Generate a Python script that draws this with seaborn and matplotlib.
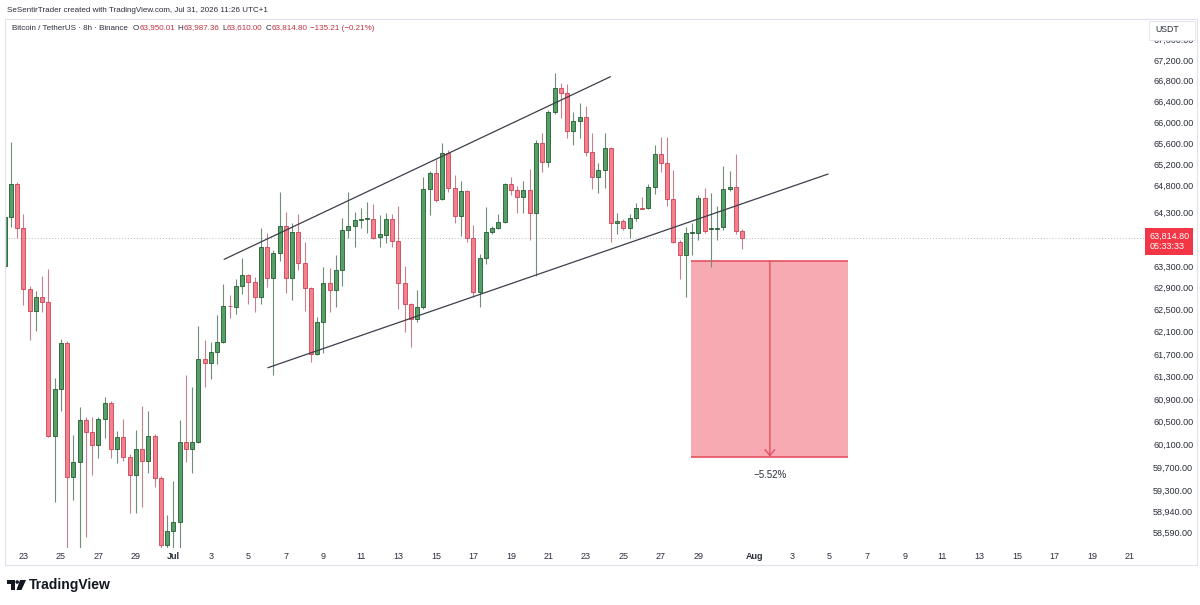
import numpy as np
import pandas as pd
import matplotlib
matplotlib.use("Agg")
import matplotlib.pyplot as plt
import matplotlib.dates as mdates
from matplotlib.patches import Rectangle, Polygon, Ellipse
from matplotlib.ticker import NullLocator, NullFormatter
import seaborn as sns

sns.set_theme(style="white")
plt.rcParams['font.family'] = ['Liberation Sans', 'DejaVu Sans']

# BTC/USDT 8h candles (Binance), first candle Jun 22 00:00
first_candle = "2026-06-22 00:00"
opens = [
    63298, 64205, 64822, 64000, 62876, 62476, 62730, 62639, 60248, 61076,
    61897, 59535, 59795, 60529, 60318, 60091, 60547, 60828, 60021, 60231,
    59882, 59570, 60021, 59813, 60248, 59518, 58371, 58609, 58762, 60143,
    60021, 60143, 61611, 61539, 61736, 61915, 62575, 62548, 62931, 63132,
    63004, 62730, 63647, 63077, 63537, 64037, 63077, 63926, 63353, 62895,
    61700, 62276, 62986, 62858, 63224, 63963, 64037, 64149, 64167, 64167,
    63833, 63870, 64167, 63759, 62986, 62603, 62330, 62548, 64729, 65030,
    64541, 65409, 64748, 64224, 64691, 63814, 62822, 63445, 63926, 64000,
    64112, 64822, 64710, 64578, 64710, 64279, 65600, 65238, 66193, 66656,
    66559, 65829, 66020, 66097, 65428, 64955, 65087, 65504, 64093, 64130,
    64000, 64186, 64373, 64373, 64766, 65390, 65219, 64541, 63740, 63500,
    63907, 63907, 64560, 63981, 63981, 64018, 64729, 64766, 63950.01,
]
highs = [
    64230, 65619, 64860, 64261, 62931, 62840, 63114, 63242, 61272, 61969,
    61933, 60266, 60758, 60582, 60582, 60582, 60934, 60863, 60336, 60547,
    59934, 60353, 60775, 60687, 60283, 59552, 58882, 59466, 60529, 61325,
    61111, 62204, 61951, 61915, 62403, 62968, 62767, 63058, 63445, 63150,
    63095, 64000, 63907, 63592, 64672, 64298, 64093, 64261, 63740, 62913,
    62367, 63279, 63261, 63500, 64186, 64672, 64298, 64373, 64485, 64447,
    64242, 64279, 64261, 64410, 63297, 62620, 62858, 64955, 65068, 65295,
    65600, 65466, 64993, 64880, 64710, 64056, 63518, 64391, 64037, 64261,
    64841, 64955, 64785, 64880, 65106, 65657, 65791, 66231, 66947, 66753,
    66733, 66193, 66366, 66308, 65791, 65219, 65791, 65520, 64279, 64167,
    64261, 64466, 64578, 64822, 65561, 65714, 65714, 65087, 63777, 64018,
    64093, 64616, 64748, 64653, 64410, 65163, 65068, 65390, 63987.36,
]
lows = [
    63250, 64019, 63814, 62585, 61951, 62114, 62458, 60230, 59105, 60687,
    58300, 59139, 58300, 58507, 59570, 59865, 60213, 59865, 59778, 59813,
    58916, 58916, 59019, 59604, 59363, 58300, 58300, 58300, 58300, 59795,
    59604, 60120, 61111, 61254, 61521, 61900, 62348, 62421, 62785, 62603,
    62458, 62603, 62913, 61325, 63390, 62803, 62675, 63224, 62476, 61557,
    61690, 61718, 62458, 62548, 62931, 63814, 63647, 64000, 63907, 63800,
    63647, 63721, 63647, 62512, 62096, 61826, 62276, 62512, 64242, 64485,
    64520, 64672, 64093, 63851, 63740, 62730, 62548, 63335, 63888, 63981,
    64093, 64616, 64279, 64279, 63777, 63113, 65049, 65144, 66154, 66078,
    65695, 65561, 65695, 65352, 64729, 64653, 64748, 63740, 63888, 63963,
    63814, 64130, 64354, 64355, 64635, 65049, 64410, 63721, 63058, 62730,
    63500, 63777, 63907, 63279, 63777, 63963, 64691, 63888, 63610.00,
]
closes = [
    64205, 64822, 64000, 62876, 62476, 62730, 62639, 60248, 61076, 61897,
    59535, 59795, 60529, 60318, 60091, 60547, 60828, 60021, 60231, 59882,
    59570, 60021, 59813, 60248, 59518, 58371, 58609, 58762, 60143, 60021,
    60143, 61611, 61539, 61736, 61915, 62566, 62560, 62931, 63132, 63004,
    62730, 63647, 63077, 63537, 64037, 63077, 63926, 63353, 62895, 61700,
    62276, 62986, 62858, 63224, 63963, 64037, 64149, 64160, 64175, 63814,
    63888, 64167, 63759, 62986, 62603, 62330, 62548, 64729, 65030, 64522,
    65409, 64748, 64224, 64691, 63814, 62822, 63445, 63926, 64000, 64112,
    64822, 64710, 64578, 64710, 64279, 65600, 65238, 66193, 66656, 66559,
    65829, 66020, 66097, 65428, 64955, 65087, 65504, 64093, 64130, 64000,
    64186, 64373, 64360, 64766, 65390, 65219, 64541, 63740, 63500, 63907,
    63915, 64560, 63944, 63990, 64000, 64729, 64766, 63950, 63814.80,
]

y_ticks = [67600, 67200, 66800, 66400, 66000, 65600, 65200, 64800, 64300,
           63300, 62900, 62500, 62100, 61700, 61300, 60900, 60500, 60100,
           59700, 59300, 58940, 58590]
x_tick_dates = ["2026-06-23", "2026-06-25", "2026-06-27", "2026-06-29",
                "2026-07-01", "2026-07-03", "2026-07-05", "2026-07-07",
                "2026-07-09", "2026-07-11", "2026-07-13", "2026-07-15",
                "2026-07-17", "2026-07-19", "2026-07-21", "2026-07-23",
                "2026-07-25", "2026-07-27", "2026-07-29", "2026-08-01",
                "2026-08-03", "2026-08-05", "2026-08-07", "2026-08-09",
                "2026-08-11", "2026-08-13", "2026-08-15", "2026-08-17",
                "2026-08-19", "2026-08-21"]
x_tick_labels = ["23", "25", "27", "29", "Jul", "3", "5", "7", "9", "11",
                 "13", "15", "17", "19", "21", "23", "25", "27", "29", "Aug",
                 "3", "5", "7", "9", "11", "13", "15", "17", "19", "21"]

# drawn channel
upper_dates = ["2026-07-03 17:00", "2026-07-24 07:30"]
upper_prices = [63420, 66875]
lower_dates = ["2026-07-06 01:00", "2026-08-04 22:00"]
lower_prices = [61455, 65011]

# price range tool
box_dates = ["2026-07-28 15:00", "2026-08-06 00:00"]
box_prices = [63390, 59890]
box_label = "\u22125.52%"

header = "SeSentirTrader created with TradingView.com, Jul 31, 2026 11:26 UTC+1"
legend_parts = [("Bitcoin / TetherUS \u00b7 8h \u00b7 Binance", "dark", 5),
                ("O", "dark", 0), ("63,950.01", "red", 3),
                ("H", "dark", 0), ("63,987.36", "red", 3),
                ("L", "dark", 0), ("63,610.00", "red", 3),
                ("C", "dark", 0), ("63,814.80", "red", 3),
                ("\u2212135.21 (\u22120.21%)", "red", 0)]
countdown = "05:33:33"

GREEN, GREEN_EDGE, GREEN_WICK = "#55a065", "#245a34", "#6f8f75"
RED, RED_EDGE, RED_WICK = "#f2808d", "#cc4257", "#c5828c"
TEXT = "#2a2e39"

W, H = 1200, 605
fig = plt.figure(figsize=(W / 100, H / 100), dpi=100)
fig.patch.set_facecolor("white")


def fx(px):
    return px / W


def fy(py):
    return 1 - py / H


fig.add_artist(Rectangle((fx(5), fy(565)), fx(1197) - fx(5), fy(19) - fy(565),
                         transform=fig.transFigure, fill=False,
                         edgecolor="#e0e3eb", lw=0.8))

ax = fig.add_axes([fx(5), fy(548), 1140 / W, 529 / H])
ax.set_facecolor("white")
for s in ax.spines.values():
    s.set_visible(False)
ax.grid(False)

df = pd.DataFrame({"open": opens, "high": highs, "low": lows, "close": closes})
df["date"] = pd.date_range(first_candle, periods=len(df), freq="8h")
df["x"] = mdates.date2num(df["date"])
up = (df["close"] >= df["open"]).values

# price range box (behind candles)
bx = mdates.date2num(pd.to_datetime(box_dates))
ax.add_patch(Rectangle((bx[0], box_prices[1]), bx[1] - bx[0],
                       box_prices[0] - box_prices[1],
                       facecolor="#f8aab3", edgecolor="none", zorder=1))
ax.hlines(box_prices, bx[0], bx[1], colors="#e5505f", lw=1.2, zorder=1.5)
mid = bx.mean()
ax.annotate("", xy=(mid, box_prices[1]), xytext=(mid, box_prices[0]),
            arrowprops=dict(arrowstyle="->,head_length=0.3,head_width=0.25",
                            color="#e5505f", lw=1.0, mutation_scale=14,
                            shrinkA=0, shrinkB=0), zorder=1.6)
ax.annotate(box_label, xy=(mid, box_prices[1]), xytext=(0, -13),
            textcoords="offset points", ha="center", va="center",
            fontsize=7, color=TEXT)

# last price line
last = closes[-1]
ax.axhline(last, color="#b9bcc4", ls=(0, (1, 2)), lw=0.7, zorder=1)

# candles
ax.vlines(df["x"], df["low"], df["high"],
          colors=np.where(up, GREEN_WICK, RED_WICK), lw=0.8, zorder=2)
body_lo = df[["open", "close"]].min(axis=1)
body_h = (df["open"] - df["close"]).abs().clip(lower=10)
ax.bar(df["x"], body_h, bottom=body_lo, width=0.21,
       color=list(np.where(up, GREEN, RED)),
       edgecolor=list(np.where(up, GREEN_EDGE, RED_EDGE)),
       linewidth=0.6, zorder=3)

# channel lines
for d, p in [(upper_dates, upper_prices), (lower_dates, lower_prices)]:
    sns.lineplot(x=mdates.date2num(pd.to_datetime(d)), y=p, ax=ax,
                 color="#3b3f4a", lw=0.9, legend=False, zorder=4)

ax.set_yscale("log")
ax.set_ylim(58320, 68005)
ax.set_xlim(mdates.date2num(pd.Timestamp("2026-06-22 00:30")),
            mdates.date2num(pd.Timestamp("2026-08-21 19:40")))

ax.yaxis.tick_right()
ax.set_yticks(y_ticks)
ax.set_yticklabels([f"{v:,.2f}" for v in y_ticks])
ax.yaxis.set_minor_locator(NullLocator())
ax.yaxis.set_minor_formatter(NullFormatter())
ax.set_xticks(mdates.date2num(pd.to_datetime(x_tick_dates)))
ax.set_xticklabels(x_tick_labels)
ax.tick_params(axis="y", length=0, pad=5.8, labelsize=6.5, labelcolor=TEXT)
ax.tick_params(axis="x", length=0, pad=3.0, labelsize=6.5, labelcolor=TEXT)
for t in ax.get_xticklabels():
    if t.get_text() in ("Jul", "Aug"):
        t.set_fontweight("bold")
ax.set_xlabel("")
ax.set_ylabel("")

# current price tag
ax.annotate(f"{last:,.2f}\n{countdown}", xy=(1.0, last),
            xycoords=ax.get_yaxis_transform(), xytext=(3.0, 4.5),
            textcoords="offset points", ha="left", va="top",
            fontsize=6.5, color="white", linespacing=1.15,
            bbox=dict(boxstyle="square,pad=0.45", fc="#f23645", ec="none"),
            annotation_clip=False)

# USDT badge over the top label
fig.add_artist(Rectangle((fx(1149), fy(40)), fx(1195) - fx(1149), fy(21) - fy(40),
                         transform=fig.transFigure, facecolor="white",
                         edgecolor="#e0e3eb", lw=0.6, zorder=5))
fig.text(fx(1155), fy(29), "USDT", fontsize=6.3, va="center", ha="left",
         color=TEXT, zorder=6)

# header texts
fig.text(fx(7), fy(10), header, fontsize=5.8, va="center", ha="left", color=TEXT)

renderer = fig.canvas.get_renderer()
xpos = 12
for txt, col, gap in legend_parts:
    t = fig.text(fx(xpos), fy(29.5), txt, fontsize=5.8, va="baseline", ha="left",
                 color=TEXT if col == "dark" else "#c0303f")
    xpos += t.get_window_extent(renderer).width + gap

# TradingView logo
logo = "#131722"
fig.add_artist(Polygon([(fx(7), fy(580)), (fx(15), fy(580)), (fx(15), fy(590)),
                        (fx(11), fy(590)), (fx(11), fy(584)), (fx(7), fy(584))],
                       closed=True, transform=fig.transFigure, fc=logo, ec="none"))
fig.add_artist(Ellipse((fx(17.2), fy(582)), 3.6 / W, 3.6 / H,
                       transform=fig.transFigure, fc=logo, ec="none"))
fig.add_artist(Polygon([(fx(20), fy(580)), (fx(26), fy(580)), (fx(21.5), fy(590)),
                        (fx(16.5), fy(590))],
                       closed=True, transform=fig.transFigure, fc=logo, ec="none"))
fig.text(fx(29), fy(585.5), "TradingView", fontsize=10, fontweight="bold",
         va="center", ha="left", color=logo)

fig.savefig("out.png", dpi=100, facecolor="white")
